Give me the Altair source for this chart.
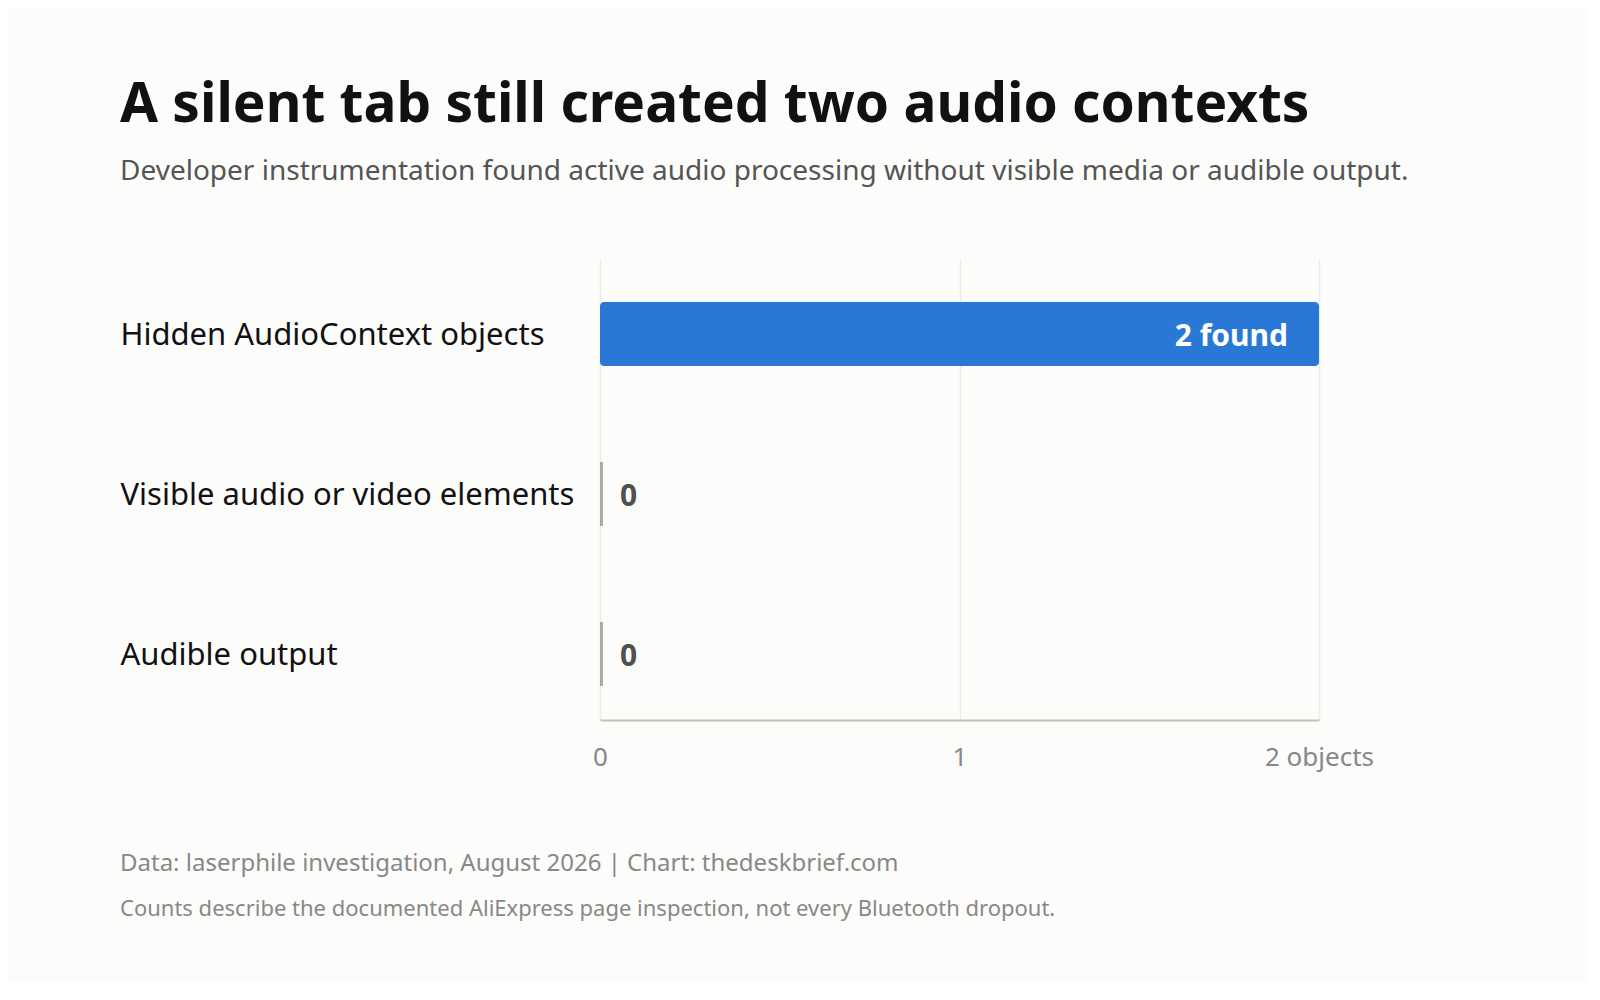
import altair as alt
import pandas as pd

categories = ["Hidden AudioContext objects", "Visible audio or video elements", "Audible output"]
values = [2, 0, 0]
value_labels = ["2 found", "0", "0"]
x_ticks = [0, 1, 2]
footer_lines = [
    "Data: laserphile investigation, August 2026 | Chart: thedeskbrief.com",
    "Counts describe the documented AliExpress page inspection, not every Bluetooth dropout.",
]

df = pd.DataFrame({"category": categories, "value": values, "label": value_labels})

FONT = "Noto Sans"
BLUE = "#2a78d6"

y_enc = alt.Y(
    "category:N",
    sort=categories,
    title=None,
    scale=alt.Scale(paddingInner=0.6, paddingOuter=0.2375, align=0.553),
    axis=alt.Axis(
        labelAlign="left",
        labelPadding=480,
        labelOffset=2,
        ticks=False,
        tickSize=0,
        domain=False,
        grid=False,
        labelFontSize=31,
        labelColor="#111111",
        labelFont=FONT,
        labelLimit=700,
    ),
)

x_enc = alt.X(
    "value:Q",
    title=None,
    scale=alt.Scale(domain=[0, 2], nice=False),
    axis=alt.Axis(
        values=x_ticks,
        labelExpr="datum.value == 2 ? '2 objects' : toString(datum.value)",
        labelColor="#888888",
        labelFontSize=26,
        labelFont=FONT,
        labelPadding=24,
        labelOverlap=False,
        ticks=False,
        domainColor="#c2c2b6",
        domainWidth=2,
        gridColor="#ebebe8",
        gridWidth=1.5,
        labelFlush=False,
    ),
)

base = alt.Chart(df)
y_plain = alt.Y("category:N", sort=categories)

bars = base.transform_filter("datum.value > 0").mark_bar(color=BLUE, cornerRadius=4).encode(
    x=x_enc, y=y_enc
)

stubs = base.transform_filter("datum.value == 0").mark_tick(
    color="#8a8a84", thickness=3, size=64, xOffset=1.5
).encode(x="value:Q", y=y_plain)

lab_in = base.transform_filter("datum.value > 0").mark_text(
    align="right", baseline="middle", dx=-31, dy=3, font=FONT, fontSize=30,
    fontWeight="bold", color="white"
).encode(x="value:Q", y=y_plain, text="label:N")

lab_out = base.transform_filter("datum.value == 0").mark_text(
    align="left", baseline="middle", dx=20, dy=3, font=FONT, fontSize=30,
    fontWeight="bold", color="#505050"
).encode(x="value:Q", y=y_plain, text="label:N")

foot_df = pd.DataFrame({"t": footer_lines, "row": [0, 1]})
foot1 = alt.Chart(foot_df).transform_filter("datum.row == 0").mark_text(
    align="left", baseline="alphabetic", font=FONT, fontSize=24, color="#888888"
).encode(text="t:N", x=alt.value(-480), y=alt.value(611))
foot2 = alt.Chart(foot_df).transform_filter("datum.row == 1").mark_text(
    align="left", baseline="alphabetic", font=FONT, fontSize=22, color="#888888"
).encode(text="t:N", x=alt.value(-480), y=alt.value(656))

chart = alt.layer(bars, stubs, lab_in, lab_out, foot1, foot2).properties(
    width=719,
    height=460,
    background="#fcfcfb",
    autosize=alt.AutoSizeParams(type="none"),
    padding={"left": 592, "top": 252, "right": 270, "bottom": 262},
    title=alt.TitleParams(
        text="A silent tab still created two audio contexts",
        subtitle="Developer instrumentation found active audio processing without visible media or audible output.",
        anchor="start",
        frame="bounds",
        font=FONT,
        fontSize=55,
        fontWeight="bold",
        color="#111111",
        subtitleFont=FONT,
        subtitleFontSize=28,
        subtitleColor="#555555",
        subtitlePadding=24,
        offset=73,
    ),
).configure_view(stroke=None)

chart.save("out.html", embed_options={"renderer": "svg", "actions": False})
